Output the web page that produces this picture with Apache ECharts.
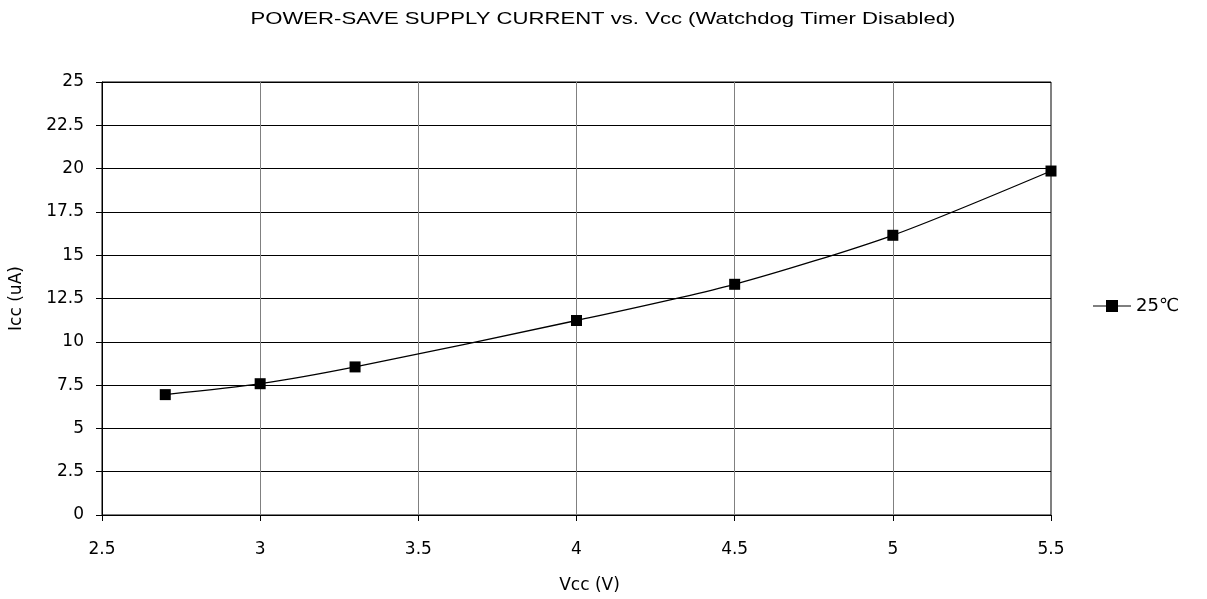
<!DOCTYPE html>
<html><head><meta charset="utf-8">
<script src="https://cdn.jsdelivr.net/npm/echarts@6/dist/echarts.min.js"></script>
<style>html,body{margin:0;padding:0;background:#fff}#c{width:1207px;height:599px}</style>
</head><body><div id="c"></div>
<script>
const vcc = [2.7, 3, 3.3, 4, 4.5, 5, 5.5];
const icc25 = [6.95, 7.58, 8.55, 11.23, 13.32, 16.15, 19.86];
const seriesName = '25℃';
const titleText = 'POWER-SAVE SUPPLY CURRENT vs. Vcc (Watchdog Timer Disabled)';
const font = 'Liberation Sans, Arial, sans-serif';
const wide = 'DejaVu Sans, sans-serif';
const chart = echarts.init(document.getElementById('c'));
chart.setOption({
  backgroundColor: '#fff',
  animation: false,
  graphic: [{ type: 'text', x: 603, y: 19, scaleX: 1.3, scaleY: 1,
    style: { text: titleText, fontFamily: font, fontSize: 17, fill: '#000',
      textAlign: 'center', textVerticalAlign: 'middle' } }],
  legend: { left: 1088, top: 292, itemWidth: 38, itemHeight: 12, itemGap: 4,
    icon: 'path://M0,5.5L13,5.5L13,0L25,0L25,5.5L38,5.5L38,6.5L25,6.5L25,12L13,12L13,6.5L0,6.5Z',
    textStyle: { fontFamily: wide, fontSize: 18, color: '#000' },
    data: [seriesName] },
  grid: { left: 102, top: 82, right: 156, bottom: 84, show: true, borderColor: '#000', borderWidth: 1 },
  xAxis: { type: 'value', min: 2.5, max: 5.5, interval: 0.5,
    name: 'Vcc (V)', nameLocation: 'middle', nameGap: 62,
    nameTextStyle: { fontFamily: wide, fontSize: 17, color: '#000', padding: [0, 0, 0, 26] },
    axisLine: { onZero: false, lineStyle: { color: '#000' } },
    axisTick: { show: true, length: 6, inside: false, lineStyle: { color: '#000' } },
    axisLabel: { fontFamily: wide, fontSize: 17, color: '#000', margin: 26 },
    splitLine: { show: true, lineStyle: { color: '#808080', width: 1 } } },
  yAxis: { type: 'value', min: 0, max: 25, interval: 2.5,
    name: 'Icc (uA)', nameLocation: 'middle', nameGap: 77, nameRotate: 90,
    nameTextStyle: { fontFamily: wide, fontSize: 17, color: '#000' },
    axisLine: { show: true, onZero: false, lineStyle: { color: '#000' } },
    axisTick: { show: true, length: 6, inside: false, lineStyle: { color: '#000' } },
    axisLabel: { fontFamily: wide, fontSize: 17, color: '#000', margin: 18 },
    splitLine: { show: true, lineStyle: { color: '#000', width: 1 } } },
  series: [{ name: seriesName, type: 'line', smooth: 0.25,
    data: vcc.map((v, i) => [v, icc25[i]]),
    symbol: 'rect', symbolSize: 11,
    itemStyle: { color: '#000' }, lineStyle: { color: '#000', width: 1.3 } }]
});
</script></body></html>
